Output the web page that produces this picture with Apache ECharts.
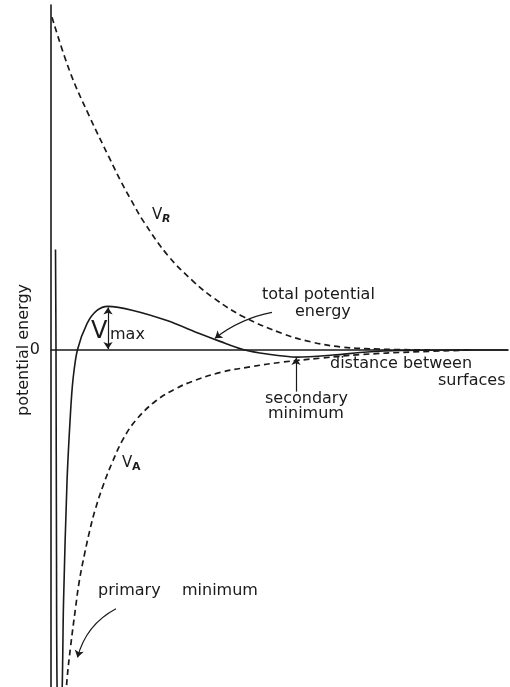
<!DOCTYPE html>
<html>
<head>
    <meta charset="utf-8">
    <title>DLVO</title>
    <script type="text/javascript" src="https://cdn.jsdelivr.net/npm/echarts@6/dist/echarts.min.js"></script>
    <style>
        html, body { margin: 0; padding: 0; background: #fff; }
    </style>
</head>
<body>
	<div id="main" style="height:687px; width:510px;"></div>
	<script type="text/javascript">
	// curves, as [distance, energy]
	var totalCurve = [[0.45, 9.9], [0.5, 0], [0.55, -20], [0.62, -34], [0.85, -37.5], [1.1, -34], [1.25, -25],
	    [1.6, -13], [1.95, -6.2], [2.2, -2.9], [2.64, 0], [3.6, 2.6], [4.6, 3.9], [5.7, 4.3], [8.2, 3.9],
	    [11.6, 2.9], [14.9, 1.6], [16.9, 0.85], [19.2, 0.05], [21.6, -0.4], [24.6, -0.7], [28.2, -0.5],
	    [31.6, -0.2], [35, -0.05], [40, 0], [45.7, 0]];
	var repulsion = [[0.1, 32.8], [1.9, 27.4], [3.85, 23.0], [5.8, 19.0], [7.0, 16.6], [8.0, 14.8], [9.3, 12.6],
	    [11.7, 9.3], [14.3, 6.7], [16.3, 5.1], [19.2, 3.3], [23.2, 1.6], [26, 0.8], [29, 0.3], [33, 0.08], [38, 0]];
	var attraction = [[1.45, -35], [1.6, -32.5], [1.95, -29.3], [2.47, -25.3], [2.84, -22.7], [3.4, -19.9],
	    [3.85, -17.9], [4.4, -15.8], [5.27, -13.2], [6.2, -10.9], [7.2, -8.8], [8.5, -6.9], [10.5, -5.0],
	    [12.5, -3.8], [14.1, -3.1], [17, -2.2], [20, -1.65], [23.1, -1.2], [27, -0.8], [31, -0.45],
	    [36, -0.2], [42, 0]];
	var yTicks = [-34, 0, 34];
	// arrow ends
	var vmaxArrow = [[5.7, 0.1], [5.7, 4.2]];
	var secondaryArrow = [[24.5, -4.1], [24.5, -0.8]];
	var totalArrow = [[22.1, 3.7], [16.4, 1.15]];
	var primaryArrow = [[6.5, -25.5], [2.65, -30.3]];

	var ink = '#1a1a1a';
	var fnt = '"DejaVu Sans", sans-serif';

	function txt(s, x, y, size, extra) {
	    var st = {text: s, fill: ink, font: (extra || '') + ' ' + size + 'px ' + fnt,
	        textAlign: 'left', textVerticalAlign: 'middle', align: 'left', verticalAlign: 'middle'};
	    return {type: 'text', x: x, y: y, style: st, silent: true};
	}

	function arrow(pair, both) {
	    return [
	        {coord: pair[0], symbol: both ? 'arrow' : 'none'},
	        {coord: pair[1], symbol: 'arrow'}
	    ];
	}

	function curvedArrow(pair, curve) {
	    return {
	        type: 'lines', coordinateSystem: 'cartesian2d', silent: true,
	        symbol: ['none', 'arrow'], symbolSize: 7,
	        lineStyle: {color: ink, width: 1.2, curveness: curve, opacity: 1},
	        data: [{coords: pair}]
	    };
	}

	var myChart = echarts.init(document.getElementById('main'));
	var option = {
	    animation: false,
	    grid: {left: 51, right: 2, top: 5, bottom: -8, outerBoundsMode: 'none'},
	    xAxis: {
	        type: 'value', min: 0, max: 45.7,
	        axisLine: {onZero: true, lineStyle: {color: ink, width: 1.6}},
	        axisTick: {show: false}, axisLabel: {show: false}, splitLine: {show: false}
	    },
	    yAxis: {
	        type: 'value', min: yTicks[0], max: yTicks[2], interval: 34,
	        name: 'potential energy', nameLocation: 'middle', nameGap: 19, nameMoveOverlap: false,
	        nameTextStyle: {color: ink, fontSize: 16, fontFamily: fnt},
	        axisLine: {show: true, lineStyle: {color: ink, width: 1.6}},
	        axisTick: {show: false}, splitLine: {show: false},
	        axisLabel: {
	            margin: 11, color: ink, fontSize: 16, fontFamily: fnt,
	            formatter: function (v) { return v === 0 ? '0' : ''; }
	        }
	    },
	    series: [
	        {
	            name: 'total', type: 'line', data: totalCurve, smooth: 0.3, symbol: 'none',
	            lineStyle: {color: ink, width: 1.6},
	            markLine: {
	                silent: true, symbolSize: 7, label: {show: false},
	                lineStyle: {color: ink, width: 1.2, type: 'solid'},
	                data: [arrow(vmaxArrow, true), arrow(secondaryArrow, false)]
	            }
	        },
	        {
	            name: 'VR', type: 'line', data: repulsion, smooth: 0.4, symbol: 'none',
	            lineStyle: {color: ink, width: 1.7, type: [6, 4]}
	        },
	        {
	            name: 'VA', type: 'line', data: attraction, smooth: 0.4, symbol: 'none',
	            lineStyle: {color: ink, width: 1.7, type: [6, 4]}
	        },
	        curvedArrow(totalArrow, -0.12),
	        curvedArrow(primaryArrow, -0.22)
	    ],
	    graphic: [
	        txt('V', 152, 215, 15),
	        txt('R', 162, 219, 11, 'italic bold'),
	        txt('V', 122, 463, 15),
	        txt('A', 132, 467, 11, 'bold'),
	        txt('V', 91, 332, 24),
	        txt('max', 110, 335, 16),
	        txt('total potential', 262, 295, 16),
	        txt('energy', 295, 312, 16),
	        txt('distance between', 330, 364, 16),
	        txt('surfaces', 438, 381, 16),
	        txt('secondary', 265, 399, 16),
	        txt('minimum', 268, 414, 16),
	        txt('primary', 98, 591, 16),
	        txt('minimum', 182, 591, 16)
	    ]
	};
	myChart.setOption(option);
	</script>
</body>
</html>
